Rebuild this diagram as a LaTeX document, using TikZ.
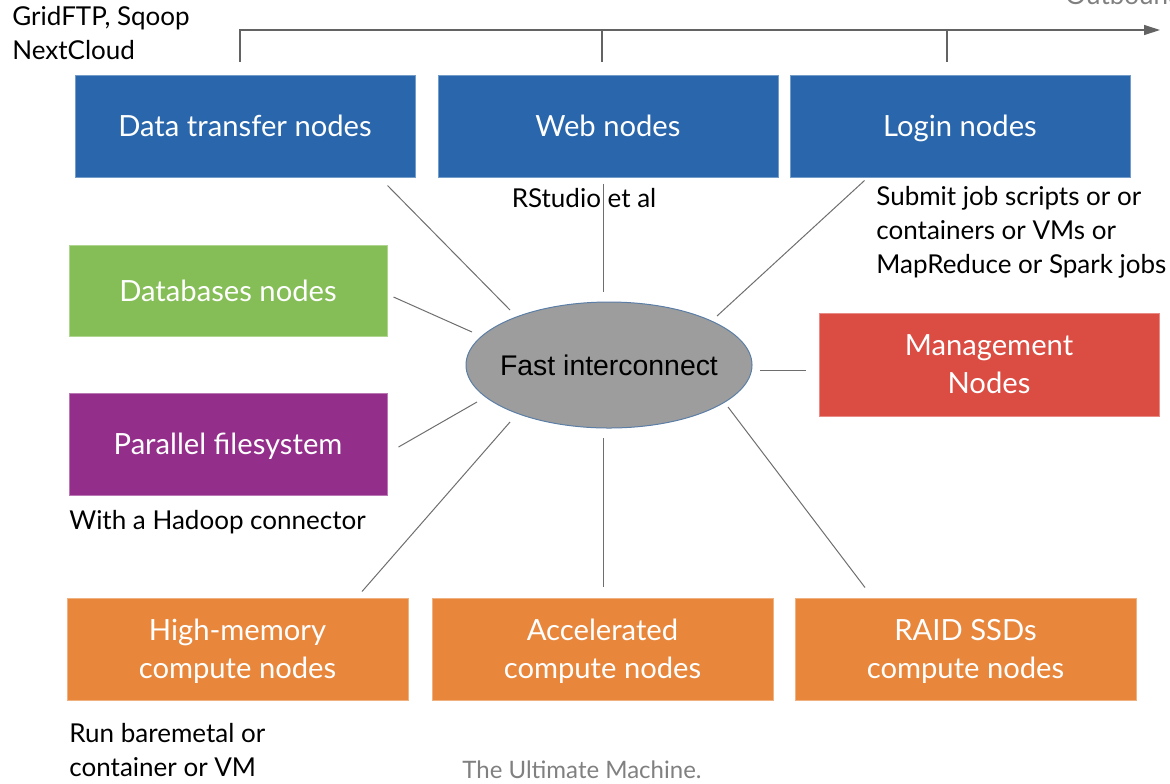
\documentclass[tikz,border=0pt]{standalone}
\usepackage{fontspec}
\setmainfont{Lato}
\newfontfamily\arialfont{Liberation Sans}
\usetikzlibrary{arrows.meta,shapes.geometric}

\definecolor{xferblue}{HTML}{2966AC}
\definecolor{dbgreen}{HTML}{85BE56}
\definecolor{fspurple}{HTML}{932E8A}
\definecolor{mgmtred}{HTML}{DB4C43}
\definecolor{cmporange}{HTML}{E8873C}
\definecolor{icgray}{HTML}{9D9D9D}
\definecolor{icedge}{HTML}{5B7EA6}
\definecolor{linkgray}{HTML}{6E6E6E}

\tikzset{
  box/.style={fill=#1, draw=#1!65!white, line width=0.5pt, text=white,
    font=\fontsize{14.6}{19}\selectfont, align=center, inner sep=0pt, text depth=0pt},
  link/.style={draw=linkgray, line width=0.5pt},
  bus/.style={draw=linkgray!90!black, line width=0.6pt},
  note/.style={anchor=west, align=left, inner sep=0pt, font=\fontsize{13}{17}\selectfont}
}

\begin{document}
\begin{tikzpicture}[x=0.5pt,y=-0.5pt]
\useasboundingbox (0,0) rectangle (1170,783);

% nodes
\node[box=xferblue, minimum width=170pt, minimum height=51pt] (dtn) at (245,126) {Data transfer nodes};
\node[box=xferblue, minimum width=170pt, minimum height=51pt] (web) at (608,126) {Web nodes};
\node[box=xferblue, minimum width=170pt, minimum height=51pt] (login) at (960,126) {Login nodes};
\node[box=dbgreen, minimum width=159pt, minimum height=45.5pt] (db) at (228,290.5) {Databases nodes};
\node[box=fspurple, minimum width=159pt, minimum height=51pt] (pfs) at (228,444) {Parallel filesystem};
\node[box=mgmtred, minimum width=170pt, minimum height=51.5pt] (mgmt) at (989,364.5) {Management\\Nodes};
\node[box=cmporange, minimum width=170.5pt, minimum height=51pt] (himem) at (237.5,649) {High-memory\\compute nodes};
\node[box=cmporange, minimum width=170.5pt, minimum height=51pt] (accel) at (602.5,649) {Accelerated\\compute nodes};
\node[box=cmporange, minimum width=170.5pt, minimum height=51pt] (raid) at (965.5,649) {RAID SSDs\\compute nodes};
\node[ellipse, fill=icgray, draw=icedge, line width=0.5pt, minimum width=143pt, minimum height=63pt,
  inner ysep=0pt, inner xsep=-4pt, font=\arialfont\fontsize{14.2}{17}\selectfont] (ic) at (609,365) {Fast interconnect};

% spokes to the interconnect
\draw[link] ([shift={(-28,8)}]dtn.south east) -- ([shift={(-99,-55)}]ic.center);
\draw[link] ([shift={(-5,6)}]web.south) -- ([shift={(-6,-73)}]ic.center);
\draw[link] ([shift={(75,3)}]login.south west) -- ([shift={(108,-49)}]ic.center);
\draw[link] ([shift={(6,6.5)}]db.east) -- ([shift={(-137,-33)}]ic.center);
\draw[link] ([shift={(11,3)}]pfs.east) -- ([shift={(-132,37)}]ic.center);
\draw[link] ([shift={(151,5)}]ic.center) -- ([shift={(-13,5.5)}]mgmt.west);
\draw[link] ([shift={(124.5,-6)}]himem.north) -- ([shift={(-99,57)}]ic.center);
\draw[link] ([shift={(-6,73)}]ic.center) -- ([shift={(0.5,-11)}]accel.north);
\draw[link] ([shift={(119,42)}]ic.center) -- ([shift={(-100.5,-10)}]raid.north);

% outbound bus
\coordinate (outb) at (1160,30);
\draw[bus, -{Triangle[length=8pt,width=5pt]}] ([shift={(-5,-13)}]dtn.north) |- (outb);
\draw[bus] ([shift={(-6,-13)}]web.north) -- ++(0,-32);
\draw[bus] ([shift={(-13,-13)}]login.north) -- ++(0,-32);
\node[anchor=base west, inner sep=0pt, text=gray, font=\fontsize{13}{17}\selectfont] (outlbl) at (1065,4) {Outbound};

% notes
\node[note] (dtnnote) at (12,33.5) {GridFTP, Sqoop\\NextCloud};
\node[note, anchor=center] (webnote) at (584,198) {RStudio et al};
\node[note] (loginnote) at (876,232) {Submit job scripts or or\\containers or VMs or\\MapReduce or Spark jobs};
\node[note] (pfsnote) at (69,522) {With a Hadoop connector};
\node[note] (himemnote) at (69,750) {Run baremetal or\\container or VM};
\node[note, text=gray, font=\fontsize{12}{17}\selectfont] (title) at (462,770) {The Ultimate Machine.};
\end{tikzpicture}
\end{document}
